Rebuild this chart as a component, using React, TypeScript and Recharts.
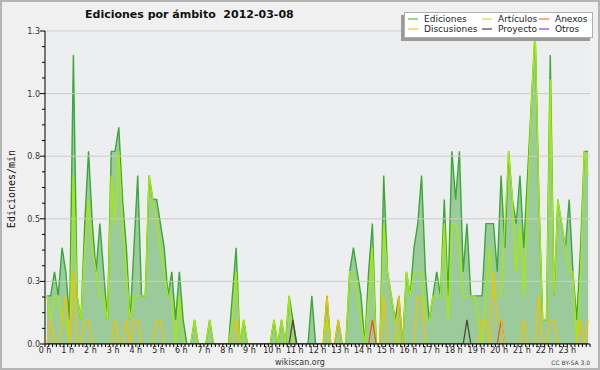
import React from 'react';
import {
  ComposedChart,
  Area,
  Line,
  XAxis,
  YAxis,
  CartesianGrid,
  ReferenceLine
} from 'recharts';

// edits/min, one value per 10-minute slot, 4 hours per row
const EDICIONES = [
  0.2, 0.2, 0.3, 0.2, 0.4, 0.3, 0.1, 1.2, 0.2, 0.1, 0.5, 0.8, 0.5, 0.3, 0.5, 0.3, 0.1, 0.8, 0.8, 0.9, 0.6, 0.4, 0.1, 0.4,
  0.7, 0.2, 0.2, 0.7, 0.6, 0.6, 0.5, 0.4, 0.2, 0.3, 0.1, 0.3, 0.1, 0, 0, 0.1, 0, 0, 0, 0.1, 0, 0, 0, 0,
  0, 0.2, 0.4, 0, 0.1, 0, 0, 0, 0, 0, 0, 0, 0.1, 0, 0.1, 0, 0.2, 0.1, 0, 0, 0, 0, 0.2, 0,
  0, 0, 0.2, 0, 0, 0.1, 0, 0, 0.3, 0.4, 0.3, 0.2, 0, 0.3, 0.5, 0, 0, 0.7, 0.3, 0.2, 0.1, 0.2, 0, 0.3,
  0.2, 0.4, 0.5, 0.7, 0.3, 0.1, 0.2, 0.3, 0.2, 0.6, 0.2, 0.8, 0.6, 0.8, 0.3, 0.5, 0.2, 0.2, 0.2, 0.2, 0.5, 0.5, 0.5, 0.3,
  0.7, 0.4, 0.8, 0.6, 0.5, 0.7, 0.4, 0.7, 1.0, 1.3, 0.6, 0.1, 0.1, 1.2, 0.2, 0.6, 0.5, 0.4, 0.6, 0.3, 0.1, 0.4, 0.8, 0.8
];

const ARTICULOS = [
  0.2, 0.1, 0.2, 0.2, 0.1, 0.1, 0, 0.7, 0.2, 0.1, 0.4, 0.6, 0.4, 0.3, 0.2, 0.2, 0.1, 0.7, 0.5, 0.8, 0.5, 0.3, 0.1, 0.2,
  0.2, 0.2, 0.2, 0.7, 0.6, 0.5, 0.4, 0.3, 0.2, 0.2, 0, 0.2, 0, 0, 0, 0.1, 0, 0, 0, 0.1, 0, 0, 0, 0,
  0, 0.1, 0.3, 0, 0.1, 0, 0, 0, 0, 0, 0, 0, 0.1, 0, 0.1, 0, 0.2, 0, 0, 0, 0, 0, 0, 0,
  0, 0, 0.1, 0, 0, 0, 0, 0, 0.3, 0.3, 0.2, 0.1, 0, 0.2, 0.4, 0, 0, 0.5, 0.3, 0.2, 0.1, 0, 0, 0.3,
  0.2, 0.3, 0.3, 0.3, 0.1, 0.1, 0.2, 0.2, 0.2, 0.5, 0.1, 0.5, 0.5, 0.4, 0.2, 0.2, 0.2, 0.2, 0.1, 0, 0.2, 0.4, 0.2, 0.2,
  0.2, 0.5, 0.8, 0.6, 0.3, 0.5, 0.2, 0.6, 1.0, 1.3, 0.6, 0.1, 0.1, 1.1, 0.2, 0.6, 0.5, 0.4, 0.3, 0.3, 0, 0.3, 0.8, 0.7
];

const DISCUSIONES = [
  0, 0.1, 0, 0, 0.1, 0.2, 0, 0.3, 0, 0, 0.1, 0.1, 0, 0, 0, 0, 0, 0, 0.1, 0, 0, 0.1, 0, 0.1,
  0.1, 0, 0, 0, 0, 0.1, 0.1, 0, 0, 0, 0, 0, 0, 0, 0, 0, 0, 0, 0, 0, 0, 0, 0, 0,
  0, 0, 0.1, 0, 0, 0, 0, 0, 0, 0, 0, 0, 0, 0, 0, 0, 0, 0, 0, 0, 0, 0, 0, 0,
  0, 0, 0.2, 0, 0, 0.1, 0, 0, 0, 0, 0, 0, 0, 0, 0, 0, 0, 0.2, 0, 0, 0, 0.2, 0, 0,
  0, 0, 0.2, 0.2, 0, 0, 0, 0, 0, 0, 0, 0, 0, 0, 0, 0, 0, 0, 0, 0.1, 0.1, 0, 0.3, 0.1,
  0.1, 0, 0, 0, 0, 0, 0.1, 0, 0, 0, 0.2, 0, 0, 0.1, 0.1, 0, 0, 0, 0, 0, 0, 0.1, 0, 0.1
];

const ANEXOS = [
  0, 0, 0, 0, 0, 0, 0, 0, 0, 0, 0, 0, 0, 0, 0, 0, 0, 0, 0, 0, 0, 0, 0, 0,
  0, 0, 0, 0, 0, 0, 0, 0, 0, 0, 0, 0, 0, 0, 0, 0, 0, 0, 0, 0, 0, 0, 0, 0,
  0, 0, 0, 0, 0, 0, 0, 0, 0, 0, 0, 0, 0, 0, 0, 0, 0, 0, 0, 0, 0, 0, 0, 0,
  0, 0, 0, 0, 0, 0, 0, 0, 0, 0, 0, 0, 0, 0, 0.1, 0, 0, 0, 0, 0, 0, 0, 0, 0,
  0, 0, 0, 0, 0, 0, 0, 0, 0, 0, 0, 0, 0, 0, 0, 0, 0, 0, 0, 0, 0, 0, 0, 0,
  0.1, 0, 0, 0, 0, 0, 0, 0, 0, 0, 0, 0, 0, 0, 0, 0, 0, 0, 0, 0, 0, 0, 0, 0
];

const PROYECTO = [
  0, 0, 0, 0, 0, 0, 0, 0, 0, 0, 0, 0, 0, 0, 0, 0, 0, 0, 0, 0, 0, 0, 0, 0,
  0, 0, 0, 0, 0, 0, 0, 0, 0, 0, 0, 0, 0, 0, 0, 0, 0, 0, 0, 0, 0, 0, 0, 0,
  0, 0, 0, 0, 0, 0, 0, 0, 0, 0, 0, 0, 0, 0, 0, 0, 0, 0.1, 0, 0, 0, 0, 0, 0,
  0, 0, 0, 0, 0, 0, 0, 0, 0, 0, 0, 0, 0, 0, 0, 0, 0, 0, 0, 0, 0, 0, 0, 0,
  0, 0, 0, 0, 0, 0, 0, 0, 0, 0, 0, 0, 0, 0, 0, 0.1, 0, 0, 0, 0, 0, 0, 0, 0,
  0, 0, 0, 0, 0, 0, 0, 0, 0, 0, 0, 0, 0, 0, 0, 0, 0, 0, 0, 0, 0, 0, 0, 0
];

const OTROS = [
  0, 0, 0, 0, 0, 0, 0, 0, 0, 0, 0, 0, 0, 0, 0, 0, 0, 0, 0, 0, 0, 0, 0, 0,
  0, 0, 0, 0, 0, 0, 0, 0, 0, 0, 0, 0, 0, 0, 0, 0, 0, 0, 0, 0, 0, 0, 0, 0,
  0, 0, 0, 0, 0, 0, 0, 0, 0, 0, 0, 0, 0, 0, 0, 0, 0, 0, 0, 0, 0, 0, 0, 0,
  0, 0, 0, 0, 0, 0, 0, 0, 0, 0, 0, 0, 0, 0, 0, 0, 0, 0, 0, 0, 0, 0, 0, 0,
  0, 0, 0, 0, 0, 0, 0, 0, 0, 0, 0, 0, 0, 0, 0, 0, 0, 0, 0, 0, 0, 0, 0, 0,
  0, 0, 0, 0, 0, 0, 0, 0, 0, 0, 0, 0, 0, 0, 0, 0, 0, 0, 0, 0, 0, 0, 0, 0
];

const SLOTS_PER_HOUR = 6;
const Y_MAJOR = [0, 0.26, 0.52, 0.78, 1.04, 1.3];

// legend order: row by row
const SERIES = [
  { key: 'ediciones', name: 'Ediciones', color: '#3aa83a', swatch: '#7fc97f' },
  { key: 'articulos', name: 'Artículos', color: '#a6ec00', swatch: '#c8f060' },
  { key: 'anexos', name: 'Anexos', color: '#ee5a1c', swatch: '#f88a5a' },
  { key: 'discusiones', name: 'Discusiones', color: '#f2c200', swatch: '#f8d050' },
  { key: 'proyecto', name: 'Proyecto', color: '#4d4d33', swatch: '#666666' },
  { key: 'otros', name: 'Otros', color: '#9933ee', swatch: '#a35ef0' }
];

const data = EDICIONES.map((v, i) => ({
  t: (i + 0.5) / SLOTS_PER_HOUR,
  ediciones: v,
  articulos: ARTICULOS[i],
  anexos: ANEXOS[i],
  discusiones: DISCUSIONES[i],
  proyecto: PROYECTO[i],
  otros: OTROS[i]
}));

const xTicks = Array.from({ length: 24 * SLOTS_PER_HOUR + 1 }, (_, k) => k / SLOTS_PER_HOUR);
const yTicks: number[] = [];
for (let j = 0; j < Y_MAJOR.length - 1; j++) {
  const step = (Y_MAJOR[j + 1] - Y_MAJOR[j]) / 4;
  for (let s = 0; s < 4; s++) yTicks.push(Y_MAJOR[j] + s * step);
}
yTicks.push(Y_MAJOR[Y_MAJOR.length - 1]);

const FONT = '"DejaVu Sans", sans-serif';

function XTick(props: any) {
  const { x, y, payload } = props;
  const h = Math.round(payload.value);
  if (Math.abs(payload.value - h) > 1e-6 || h >= 24) return <g />;
  return (
    <text x={x} y={y} dy={6} textAnchor="middle" fontSize={8} fontFamily={FONT} fill="#222">
      {`${h} h`}
    </text>
  );
}

function YTick(props: any) {
  const { x, y, payload } = props;
  const ax = x + 8; // tickSize + tickMargin
  const major = Y_MAJOR.some(m => Math.abs(m - payload.value) < 1e-6);
  return (
    <g>
      <line x1={ax - (major ? 5 : 3)} x2={ax} y1={y} y2={y} stroke="#000" />
      {major && (
        <text x={ax - 5} y={y} dy={3} textAnchor="end" fontSize={8} fontFamily={FONT} fill="#333">
          {payload.value.toFixed(1)}
        </text>
      )}
    </g>
  );
}

const LEGEND_COLS = [4, 78, 135];

export default function App() {
  return (
    <div
      style={{
        position: 'relative',
        width: 600,
        height: 370,
        boxSizing: 'border-box',
        border: '2px solid #b5b5b5',
        background: '#f0f0f0',
        overflow: 'hidden'
      }}
    >
      <style>{'body{margin:0}'}</style>
      <div style={{ position: 'absolute', left: -2, top: -2 }}>
        <ComposedChart width={600} height={370} data={data} margin={{ top: 31, right: 10, bottom: 0, left: 0 }}>
          <CartesianGrid horizontal={false} vertical={false} fill="#edeef0" />
          {Y_MAJOR.filter(v => v > 0).map(v => (
            <ReferenceLine key={v} y={v} stroke="#cccccc" strokeWidth={1} />
          ))}
          <Area
            type="linear"
            dataKey="ediciones"
            stroke={SERIES[0].color}
            strokeWidth={1.4}
            fill="#9ccb9b"
            fillOpacity={1}
            dot={false}
            activeDot={false}
            isAnimationActive={false}
          />
          {SERIES.slice(1).map(s => (
            <Line
              key={s.key}
              type="linear"
              dataKey={s.key}
              stroke={s.color}
              strokeWidth={1.3}
              dot={false}
              activeDot={false}
              isAnimationActive={false}
            />
          ))}
          <XAxis
            type="number"
            dataKey="t"
            domain={[0, 24]}
            ticks={xTicks}
            interval={0}
            height={26}
            tickSize={3}
            tickMargin={0}
            tick={<XTick />}
            stroke="#000"
            allowDataOverflow
          />
          <YAxis
            type="number"
            domain={[0, 1.3]}
            ticks={yTicks}
            interval={0}
            width={45}
            tickLine={false}
            tickSize={5}
            tickMargin={3}
            tick={<YTick />}
            stroke="#000"
            allowDataOverflow
          />
        </ComposedChart>
      </div>
      <svg
        width={600}
        height={370}
        style={{ position: 'absolute', left: -2, top: -2, pointerEvents: 'none' }}
      >
        <text x={85} y={17.5} fontFamily={FONT} fontWeight="bold" fontSize={11} fill="#111" style={{ whiteSpace: 'pre' }}>
          {'Ediciones por ámbito  2012-03-08'}
        </text>
        <text
          transform="translate(15,189) rotate(-90)"
          textAnchor="middle"
          fontFamily='"DejaVu Sans Mono", monospace'
          fontSize={10}
          fill="#111"
        >
          Ediciones/min
        </text>
        <text x={300} y={364.5} textAnchor="middle" fontFamily={FONT} fontSize={8} fill="#333">
          wikiscan.org
        </text>
        <text x={590} y={365} textAnchor="end" fontFamily={FONT} fontSize={6} fill="#444">
          CC BY-SA 3.0
        </text>
        <rect x={401} y={15} width={189} height={26} fill="#9a9a9a" />
        <rect x={404.5} y={12.5} width={188} height={25} fill="#ffffff" stroke="#b0b0b0" />
        {SERIES.map((s, i) => {
          const lx = 404 + LEGEND_COLS[i % 3];
          const ly = 19 + Math.floor(i / 3) * 10;
          return (
            <g key={s.key}>
              <line x1={lx} x2={lx + 10} y1={ly} y2={ly} stroke={s.swatch} strokeWidth={1.5} />
              <text x={lx + 16} y={ly + 3.3} fontFamily={FONT} fontSize={9} fill="#222">
                {s.name}
              </text>
            </g>
          );
        })}
      </svg>
    </div>
  );
}
